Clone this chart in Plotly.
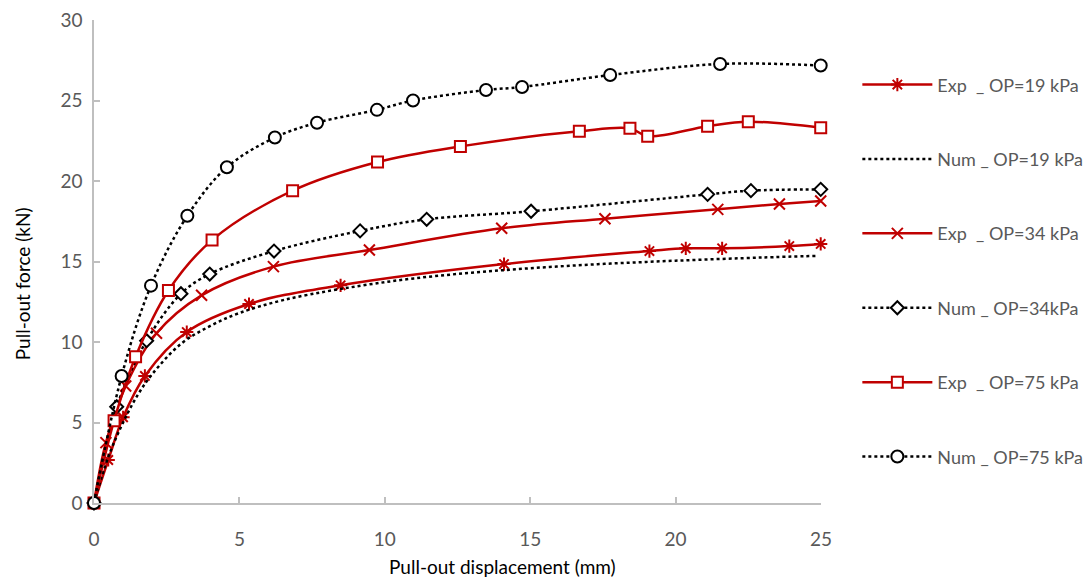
import plotly.graph_objects as go

# ---- data ----
exp19_x = [0, 0.49, 1.00, 1.75, 3.19, 5.33, 8.48, 14.10, 19.10, 20.35, 21.60, 23.91, 24.99]
exp19_y = [0, 2.67, 5.32, 7.89, 10.62, 12.36, 13.52, 14.84, 15.65, 15.82, 15.82, 15.96, 16.09]

num19_x = [0, 0.5, 1.0, 1.5, 2.0, 3.0, 4.0, 5.0, 6.5, 8.5, 11.0, 14.0, 17.0, 20.0, 23.0, 24.9]
num19_y = [0, 2.9, 5.0, 6.7, 8.0, 9.9, 11.0, 11.8, 12.6, 13.3, 13.95, 14.45, 14.8, 15.05, 15.25, 15.35]

exp34_x = [0, 0.41, 1.09, 2.15, 3.70, 6.17, 9.47, 14.02, 17.57, 21.45, 23.57, 24.99]
exp34_y = [0, 3.75, 7.27, 10.54, 12.90, 14.68, 15.71, 17.06, 17.66, 18.24, 18.57, 18.76]

num34_x = [0, 0.78, 1.81, 2.99, 3.98, 6.19, 9.15, 11.44, 15.03, 21.10, 22.59, 24.99]
num34_y = [0, 5.98, 10.08, 13.00, 14.22, 15.65, 16.90, 17.62, 18.12, 19.17, 19.40, 19.48]

exp75_x = [0, 0.69, 1.43, 2.56, 4.06, 6.83, 9.75, 12.60, 16.69, 18.43, 19.04, 21.10, 22.50, 24.99]
exp75_y = [0, 5.11, 9.09, 13.20, 16.33, 19.40, 21.18, 22.15, 23.09, 23.27, 22.78, 23.40, 23.68, 23.31]

num75_x = [0, 0.95, 1.96, 3.21, 4.57, 6.22, 7.67, 9.73, 10.97, 13.48, 14.72, 17.75, 21.53, 24.99]
num75_y = [0, 7.89, 13.50, 17.84, 20.85, 22.70, 23.62, 24.42, 25.00, 25.65, 25.84, 26.58, 27.27, 27.17]

x_ticks = [0, 5, 10, 15, 20, 25]
y_ticks = [0, 5, 10, 15, 20, 25, 30]

names = ["Exp  _ OP=19 kPa", "Num _ OP=19 kPa", "Exp  _ OP=34 kPa",
         "Num _ OP=34kPa", "Exp  _ OP=75 kPa", "Num _ OP=75 kPa"]
x_title = "Pull-out displacement (mm)"
y_title = "Pull-out force (kN)"

RED = "#c00000"
FONT = "Lato, sans-serif"
fig = go.Figure()

def add(x, y, name, color, dash, symbol, size, mfill, mline, grp):
    fig.add_trace(go.Scatter(
        x=x, y=y, name=name, legendgroup=grp, cliponaxis=False,
        mode="lines+markers" if symbol else "lines",
        line=dict(color=color, width=2.5, dash=dash, shape="spline", smoothing=1),
        marker=dict(symbol=symbol or "circle", size=size, color=mfill,
                    line=dict(color=mline, width=2)) if symbol else None,
    ))

add(exp19_x, exp19_y, names[0], RED, "solid", "asterisk-open", 11, RED, RED, "g1")
add(num19_x, num19_y, names[1], "black", "3px,3px", None, 0, None, None, "g2")
add(exp34_x, exp34_y, names[2], RED, "solid", "x-thin-open", 11, RED, RED, "g3")
add(num34_x, num34_y, names[3], "black", "3px,3px", "diamond", 10, "white", "black", "g4")
add(exp75_x, exp75_y, names[4], RED, "solid", "square", 11, "white", RED, "g5")
add(num75_x, num75_y, names[5], "black", "3px,3px", "circle", 12, "white", "black", "g6")

axis_common = dict(
    showgrid=False, zeroline=False, showline=True, linecolor="#bfbfbf", linewidth=1.5,
    ticks="inside", ticklen=6, tickcolor="#bfbfbf", tickwidth=1.5,
    tickfont=dict(family=FONT, size=19, color="#595959"),
)

fig.update_layout(
    width=1092, height=577,
    margin=dict(l=94, r=271, t=20, b=74, autoexpand=False),
    plot_bgcolor="white", paper_bgcolor="white",
    xaxis=dict(range=[0, 25], tickvals=x_ticks, ticklabelstandoff=18, **axis_common),
    yaxis=dict(range=[0, 30], tickvals=y_ticks, ticklabelstandoff=6, **axis_common),
    legend=dict(x=1.05, y=0.904, xanchor="left", yanchor="top",
                traceorder="grouped", tracegroupgap=48, itemwidth=70,
                font=dict(family=FONT, size=18, color="#595959"),
                bgcolor="rgba(0,0,0,0)"),
    showlegend=True,
    annotations=[
        dict(text=x_title, xref="paper", yref="paper", x=0.562, y=-0.1325,
             xanchor="center", yanchor="middle", showarrow=False,
             font=dict(family=FONT, size=19, color="black")),
        dict(text=y_title, xref="paper", yref="paper", x=-0.099, y=0.453,
             xanchor="center", yanchor="middle", showarrow=False, textangle=-90,
             font=dict(family=FONT, size=19, color="black")),
    ],
)

fig.write_html("out.html")
